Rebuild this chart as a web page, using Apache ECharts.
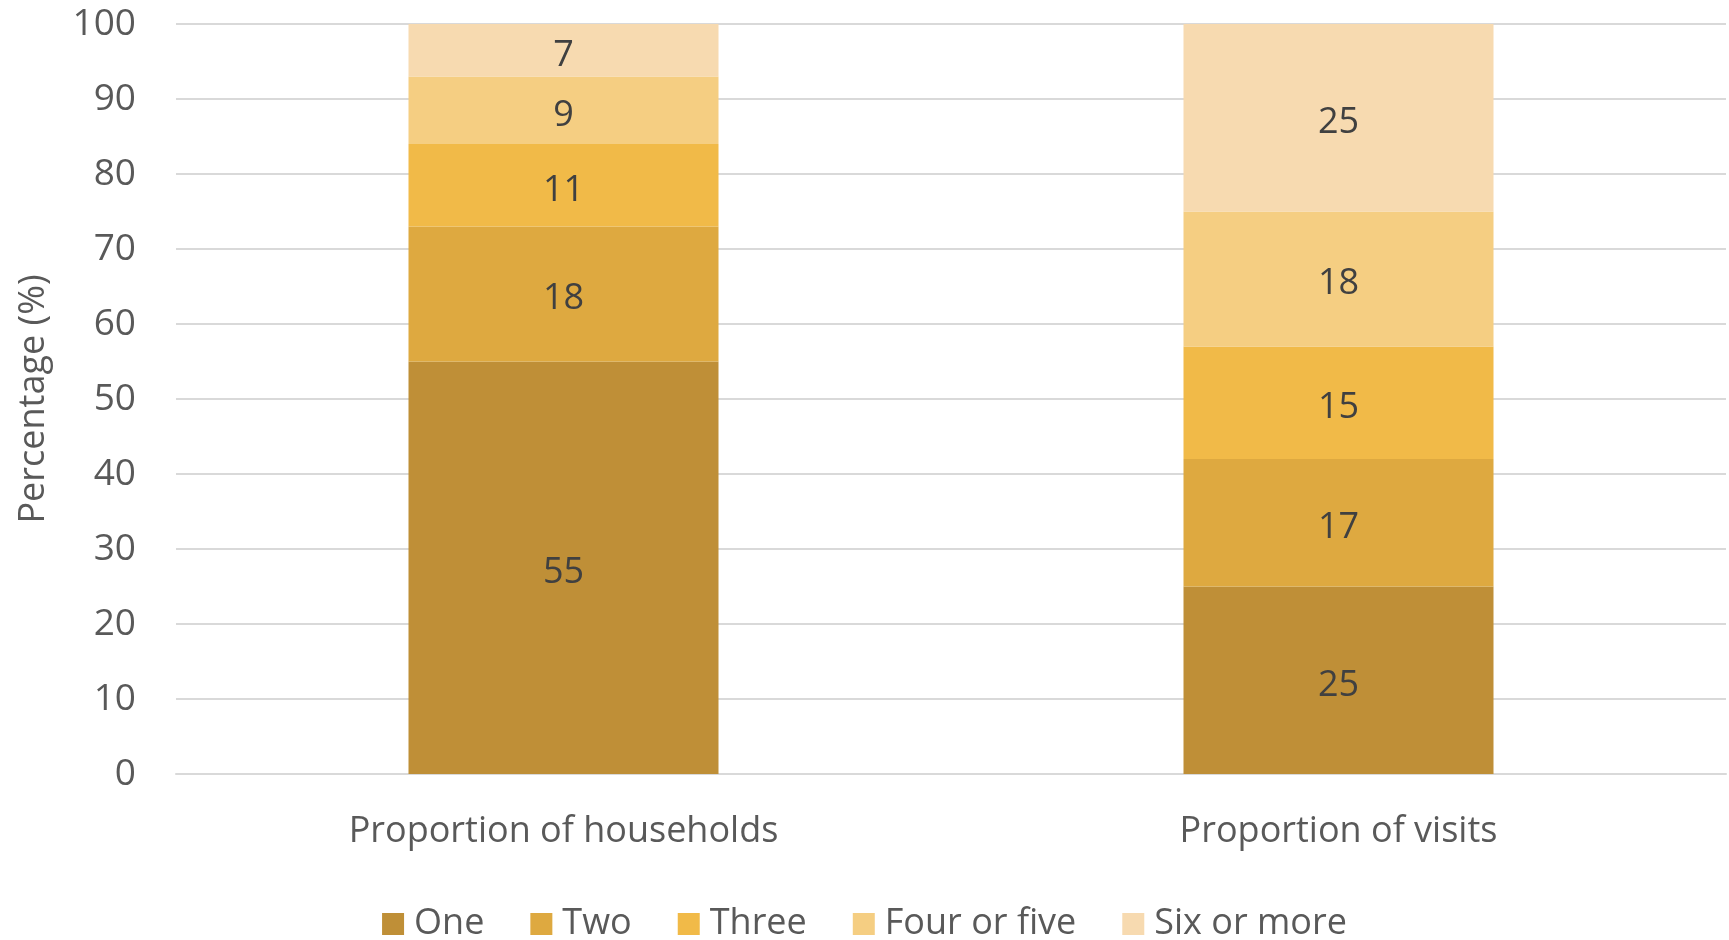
<!DOCTYPE html>
<html>
<head>
<meta charset="utf-8">
<script src="https://cdn.jsdelivr.net/npm/echarts@6/dist/echarts.min.js"></script>
<style>
html,body{margin:0;padding:0;background:#fff;}
#chart{width:1729px;height:940px;}
</style>
</head>
<body>
<div id="chart"></div>
<script>
const categories = ['Proportion of households', 'Proportion of visits'];
const seriesNames = ['One', 'Two', 'Three', 'Four or five', 'Six or more'];
const one = [55, 25];
const two = [18, 17];
const three = [11, 15];
const fourOrFive = [9, 18];
const sixOrMore = [7, 25];
const yTicks = [0, 10, 20, 30, 40, 50, 60, 70, 80, 90, 100];

const colors = ['#BF8F37', '#DEA940', '#F1BA48', '#F5CE82', '#F7DAB0'];
const values = [one, two, three, fourOrFive, sixOrMore];
const FONT = 'Open Sans';

const chart = echarts.init(document.getElementById('chart'));
chart.setOption({
  animation: false,
  textStyle: { fontFamily: FONT },
  grid: { left: 176, right: 3, top: 24, bottom: 166 },
  legend: {
    top: 901,
    left: 'center',
    itemWidth: 22,
    itemHeight: 22,
    itemGap: 46,
    icon: 'rect',
    textStyle: { fontFamily: FONT, fontSize: 36, color: '#595959', padding: [0, 0, 0, 5] },
    data: seriesNames
  },
  xAxis: {
    type: 'category',
    data: categories,
    axisLine: { show: true, lineStyle: { color: '#D9D9D9', width: 2 } },
    axisTick: { show: false },
    axisLabel: { fontFamily: FONT, fontSize: 36, color: '#595959', margin: 40 }
  },
  yAxis: {
    type: 'value',
    min: yTicks[0],
    max: yTicks[yTicks.length - 1],
    interval: 10,
    name: 'Percentage (%)',
    nameLocation: 'middle',
    nameGap: 124,
    nameTextStyle: { fontFamily: FONT, fontSize: 36, color: '#595959' },
    axisLine: { show: false },
    axisTick: { show: false },
    splitLine: { lineStyle: { color: '#D9D9D9', width: 2 } },
    axisLabel: { fontFamily: FONT, fontSize: 37, color: '#595959', margin: 40 }
  },
  series: seriesNames.map((name, i) => ({
    name: name,
    type: 'bar',
    stack: 'total',
    barWidth: '40%',
    data: values[i],
    itemStyle: { color: colors[i] },
    label: {
      show: true,
      position: 'inside',
      offset: [0, 5],
      fontFamily: FONT,
      fontSize: 36,
      color: '#404040'
    }
  }))
});
</script>
</body>
</html>
